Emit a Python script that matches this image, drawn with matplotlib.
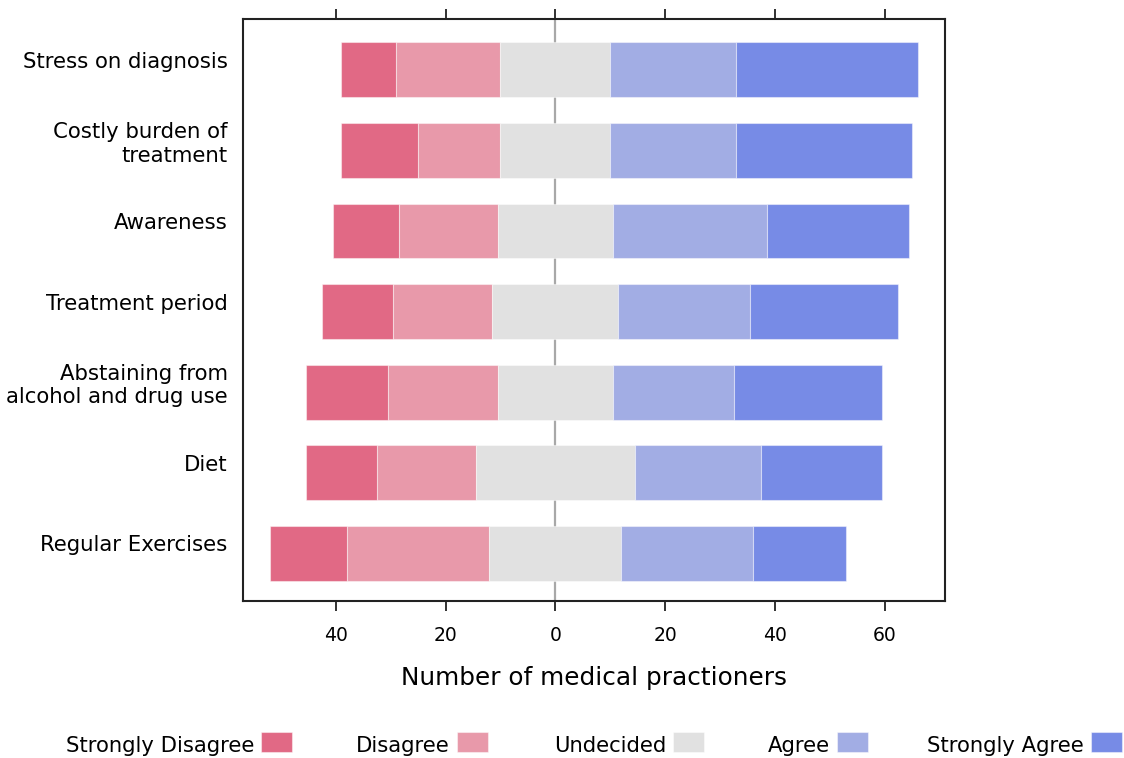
import matplotlib
matplotlib.use("Agg")
import matplotlib.pyplot as plt
import numpy as np
from matplotlib.transforms import ScaledTranslation
from matplotlib.patches import Rectangle

# ---- data ----
items = ["Stress on diagnosis", "Costly burden of\ntreatment", "Awareness",
         "Treatment period", "Abstaining from\nalcohol and drug use", "Diet",
         "Regular Exercises"]
levels = ["Strongly Disagree", "Disagree", "Undecided", "Agree", "Strongly Agree"]
strongly_disagree = [10, 14, 12, 13, 15, 13, 14]
disagree          = [19, 15, 18, 18, 20, 18, 26]
undecided         = [20, 20, 21, 23, 21, 29, 24]
agree             = [23, 23, 28, 24, 22, 23, 24]
strongly_agree    = [33, 32, 26, 27, 27, 22, 17]
xtick_values = [-40, -20, 0, 20, 40, 60]
colors = ["#E16985", "#E899AA", "#E1E1E1", "#A2ADE4", "#778BE6"]

plt.rcParams['font.family'] = ['DejaVu Sans']

W, H = 1124, 758
fig = plt.figure(figsize=(W / 100, H / 100), dpi=100)
ax = fig.add_axes([243 / W, 157 / H, 702 / W, 582 / H])

n = len(items)
ypos = np.arange(n)[::-1]  # first item at top
sd = np.array(strongly_disagree, float)
d = np.array(disagree, float)
u = np.array(undecided, float)
a = np.array(agree, float)
sa = np.array(strongly_agree, float)

lefts = [-(u / 2 + d + sd), -(u / 2 + d), -u / 2, u / 2, u / 2 + a]
widths = [sd, d, u, a, sa]

ax.axvline(0, color="#A8A8A8", lw=1.6, zorder=0)
for lvl, lf, wd, c in zip(levels, lefts, widths, colors):
    ax.barh(ypos, wd, left=lf, height=0.68, color=c,
            edgecolor=(1, 1, 1, 0.45), linewidth=0.8, zorder=2, label=lvl)

ax.set_xlim(-56.9, 71.0)
ax.set_ylim(-0.59, 6.63)

ax.set_xticks(xtick_values)
ax.set_xticklabels([str(abs(v)) for v in xtick_values])
ax.tick_params(axis="x", which="both", top=True, bottom=True, direction="out",
               length=7.5, width=1.3, labelsize=13.5, pad=10.5, color="#222222")

ax.set_yticks(ypos)
ax.set_yticklabels(items, fontsize=15.3, linespacing=1.2)
ax.tick_params(axis="y", length=0, pad=11)
off = ScaledTranslation(0, 0.10, fig.dpi_scale_trans)
for lab in ax.get_yticklabels():
    lab.set_transform(lab.get_transform() + off)

for s in ax.spines.values():
    s.set_linewidth(1.5)
    s.set_color("#222222")

ax.set_xlabel("Number of medical practioners", fontsize=17.8, labelpad=15)

# ---- legend (text left of swatch) ----
patch_left = [261, 457, 673, 837, 1091]
for lvl, c, px in zip(levels, colors, patch_left):
    fig.patches.append(Rectangle((px / W, (H - 752) / H), 31 / W, 20 / H,
                                 transform=fig.transFigure, facecolor=c,
                                 edgecolor=(1, 1, 1, 0.45), linewidth=0.8))
    fig.text((px - 7) / W, (H - 752) / H, lvl, ha="right", va="baseline",
             fontsize=15.2)

fig.savefig("out.png", dpi=100)
